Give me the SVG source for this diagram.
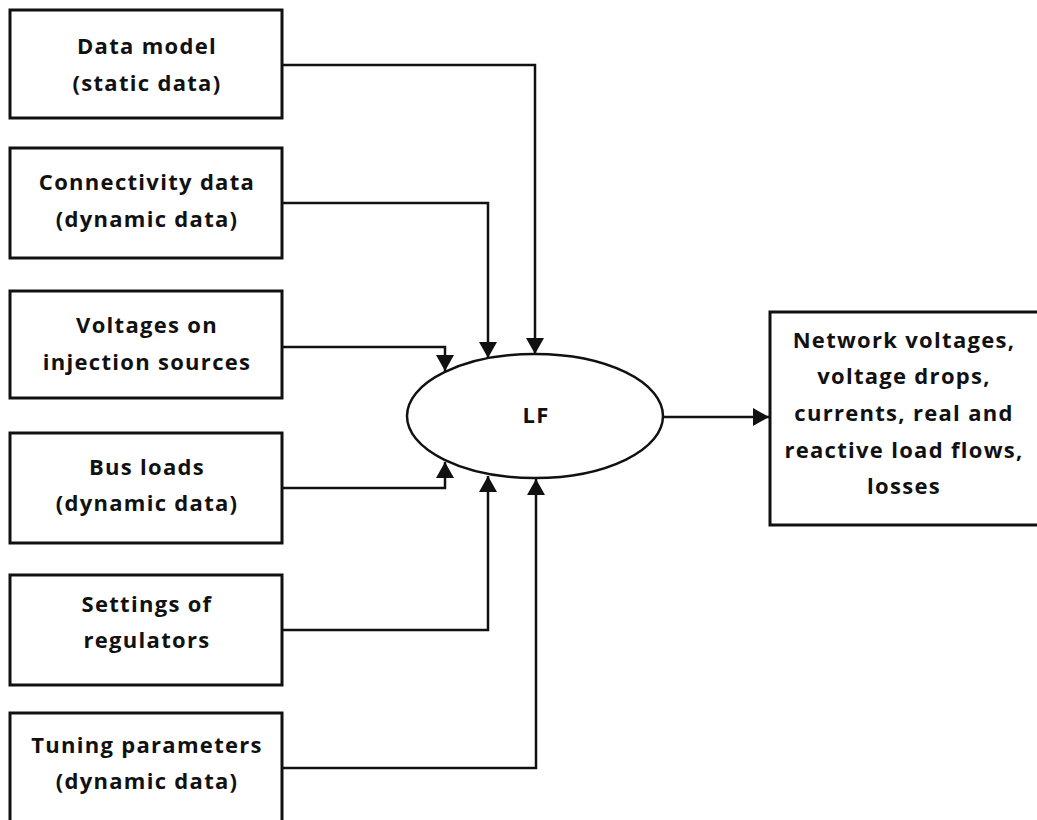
<svg xmlns="http://www.w3.org/2000/svg" width="1037" height="820" viewBox="0 0 1037 820">
<style>
.box{fill:#fff;stroke:#111;stroke-width:3}
.ell{fill:#fff;stroke:#111;stroke-width:2.5}
.conn{fill:none;stroke:#111;stroke-width:2.5}
text{font-family:"Open Sans","DejaVu Sans",sans-serif;font-weight:bold;font-size:22px;letter-spacing:1.3px;fill:#111;text-anchor:middle}
</style>
<defs>
<marker id="ah" viewBox="0 0 16 18" refX="16" refY="9" markerWidth="16" markerHeight="18" markerUnits="userSpaceOnUse" orient="auto">
<path d="M0,0 L16,9 L0,18 Z" fill="#111"/>
</marker>
</defs>
<rect width="1037" height="820" fill="#fff"/>
<g id="connectors">
<path class="conn" d="M282,65 H535 V354" marker-end="url(#ah)"/>
<path class="conn" d="M282,203 H488 V358" marker-end="url(#ah)"/>
<path class="conn" d="M282,347 H445 V371" marker-end="url(#ah)"/>
<path class="conn" d="M282,488 H445 V462" marker-end="url(#ah)"/>
<path class="conn" d="M282,630 H488 V476" marker-end="url(#ah)"/>
<path class="conn" d="M282,768 H536 V479" marker-end="url(#ah)"/>
<path class="conn" d="M663,417 H769" marker-end="url(#ah)"/>
</g>
<g id="n1"><rect class="box" x="10" y="10" width="272" height="108"/><text x="147" y="54">Data model</text><text x="147" y="91">(static data)</text></g>
<g id="n2"><rect class="box" x="10" y="148" width="272" height="110"/><text x="147" y="190">Connectivity data</text><text x="147" y="227">(dynamic data)</text></g>
<g id="n3"><rect class="box" x="10" y="291" width="272" height="107"/><text x="147" y="333">Voltages on</text><text x="147" y="370">injection sources</text></g>
<g id="n4"><rect class="box" x="10" y="433" width="272" height="110"/><text x="147" y="475">Bus loads</text><text x="147" y="511">(dynamic data)</text></g>
<g id="n5"><rect class="box" x="10" y="575" width="272" height="110"/><text x="147" y="612">Settings of</text><text x="147" y="648">regulators</text></g>
<g id="n6"><rect class="box" x="10" y="713" width="272" height="112"/><text x="147" y="753">Tuning parameters</text><text x="147" y="789">(dynamic data)</text></g>
<g id="lf"><ellipse class="ell" cx="535" cy="416" rx="128" ry="62"/><text x="536" y="423">LF</text></g>
<g id="out"><rect class="box" x="770" y="312" width="270" height="213"/>
<text x="904" y="348">Network voltages,</text>
<text x="904" y="384">voltage drops,</text>
<text x="904" y="421">currents, real and</text>
<text x="904" y="458">reactive load flows,</text>
<text x="904" y="494">losses</text></g>
</svg>
